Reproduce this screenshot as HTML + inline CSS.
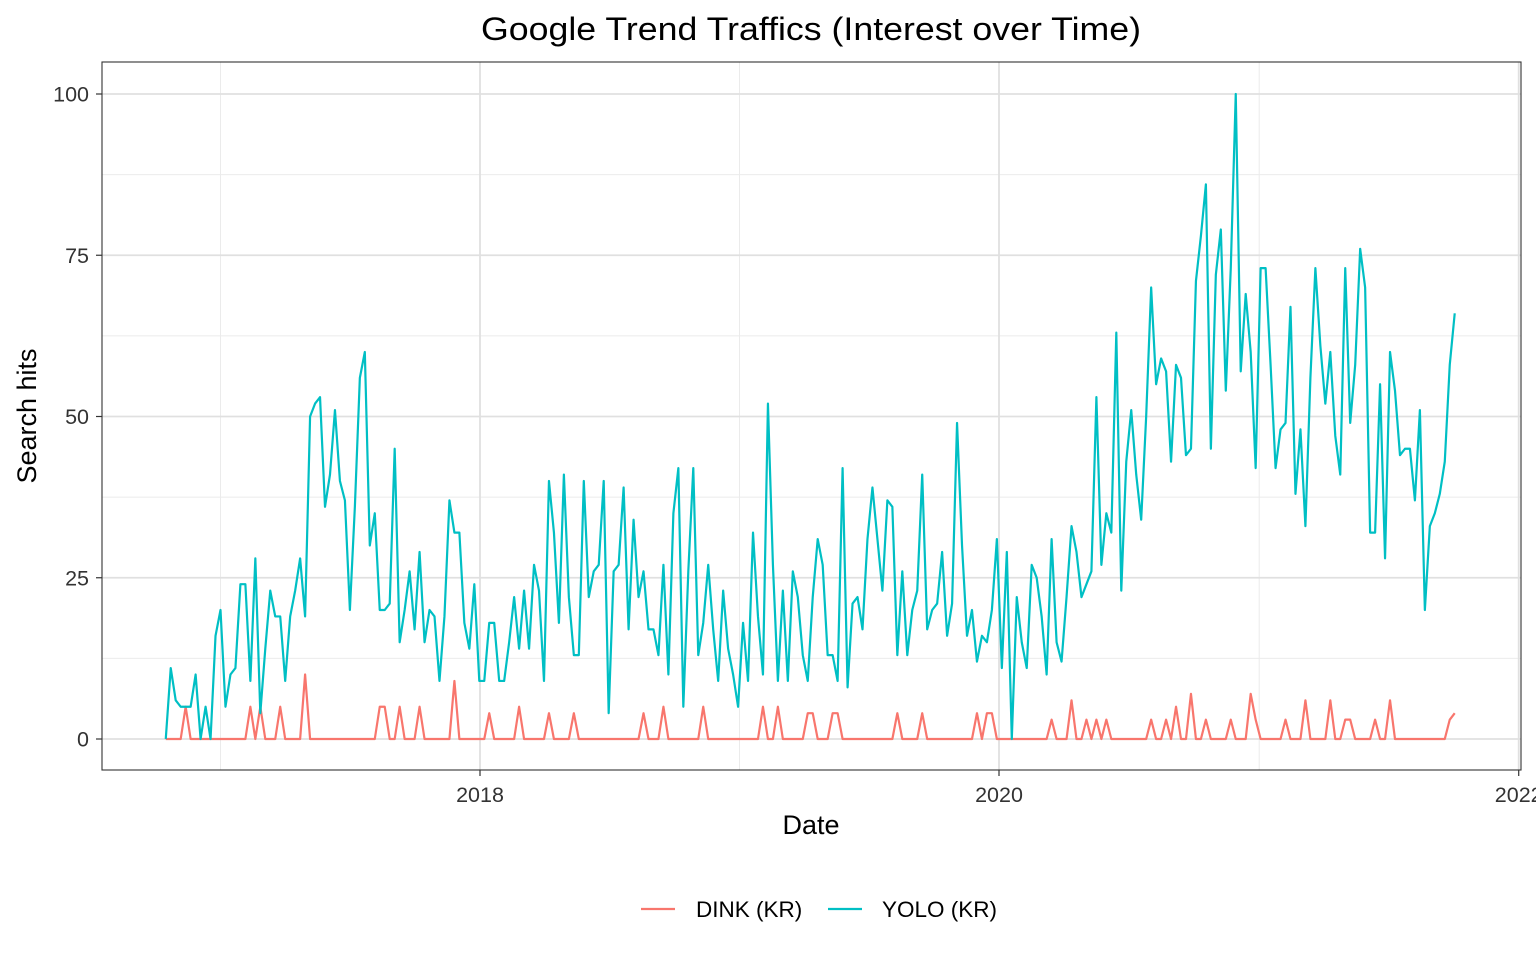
<!DOCTYPE html>
<html><head><meta charset="utf-8"><style>
html,body{margin:0;padding:0;background:#fff;}
svg{display:block;font-family:"Liberation Sans",Arial,sans-serif;}
</style></head><body>
<svg id="chart" width="1536" height="960">
<text x="811" y="40" text-anchor="middle" font-size="32" textLength="660" lengthAdjust="spacingAndGlyphs" fill="#000">Google Trend Traffics (Interest over Time)</text>
<g id="grid"></g>
<g id="series"></g>
<rect x="102" y="62" width="1419" height="708" fill="none" stroke="#333" stroke-width="1.1"/>
<g id="axes"></g>
<text x="811" y="834" text-anchor="middle" font-size="27" fill="#000">Date</text>
<text transform="translate(36,416) rotate(-90)" text-anchor="middle" font-size="27" fill="#000">Search hits</text>
<g>
<g>
<line x1="641" y1="909" x2="675" y2="909" stroke="#F8766D" stroke-width="2.2"/>
<text x="696" y="917" font-size="22.5" fill="#000">DINK (KR)</text>
</g>
<g>
<line x1="828" y1="909" x2="862" y2="909" stroke="#00BFC4" stroke-width="2.2"/>
<text x="882" y="917" font-size="22.5" fill="#000">YOLO (KR)</text>
</g>
</g>
</svg>
<script>
const startDate = "2016-10-16";
const yTicks = [0, 25, 50, 75, 100];
const xTickYears = [2018, 2020, 2022];
const xTickLabels = ["2018", "2020", "2022"];
const dink = [
0,0,0,0,5,0,0,0,0,0,0,0,0,0,0,0,0,5,0,5,
0,0,0,5,0,0,0,0,10,0,0,0,0,0,0,0,0,0,0,0,
0,0,0,5,5,0,0,5,0,0,0,5,0,0,0,0,0,0,9,0,
0,0,0,0,0,4,0,0,0,0,0,5,0,0,0,0,0,4,0,0,
0,0,4,0,0,0,0,0,0,0,0,0,0,0,0,0,4,0,0,0,
5,0,0,0,0,0,0,0,5,0,0,0,0,0,0,0,0,0,0,0,
5,0,0,5,0,0,0,0,0,4,4,0,0,0,4,4,0,0,0,0,
0,0,0,0,0,0,0,4,0,0,0,0,4,0,0,0,0,0,0,0,
0,0,0,4,0,4,4,0,0,0,0,0,0,0,0,0,0,0,3,0,
0,0,6,0,0,3,0,3,0,3,0,0,0,0,0,0,0,0,3,0,
0,3,0,5,0,0,7,0,0,3,0,0,0,0,3,0,0,0,7,3,
0,0,0,0,0,3,0,0,0,6,0,0,0,0,6,0,0,3,3,0,
0,0,0,3,0,0,6,0,0,0,0,0,0,0,0,0,0,0,3,4];
const yolo = [
0,11,6,5,5,5,10,0,5,0,16,20,5,10,11,24,24,9,28,4,
14,23,19,19,9,19,23,28,19,50,52,53,36,41,51,40,37,20,36,56,
60,30,35,20,20,21,45,15,20,26,17,29,15,20,19,9,19,37,32,32,
18,14,24,9,9,18,18,9,9,15,22,14,23,14,27,23,9,40,32,18,
41,22,13,13,40,22,26,27,40,4,26,27,39,17,34,22,26,17,17,13,
27,10,35,42,5,26,42,13,18,27,17,9,23,14,10,5,18,9,32,19,
10,52,27,9,23,9,26,22,13,9,22,31,27,13,13,9,42,8,21,22,
17,31,39,31,23,37,36,13,26,13,20,23,41,17,20,21,29,16,21,49,
30,16,20,12,16,15,20,31,11,29,0,22,15,11,27,25,19,10,31,15,
12,22,33,29,22,24,26,53,27,35,32,63,23,43,51,41,34,50,70,55,
59,57,43,58,56,44,45,71,78,86,45,72,79,54,73,100,57,69,60,42,
73,73,58,42,48,49,67,38,48,33,56,73,61,52,60,47,41,73,49,58,
76,70,32,32,55,28,60,54,44,45,45,37,51,20,33,35,38,43,58,66];

const NS = "http://www.w3.org/2000/svg";
const DAY = 86400000;
const t2018 = Date.UTC(2018,0,1), t2020 = Date.UTC(2020,0,1);
function xScale(t){ return 480 + (t - t2018) / (t2020 - t2018) * 519; }
function yScale(v){ return 739 - v * 6.45; }
const t0 = Date.parse(startDate + "T00:00:00Z");
function dateAt(i){ return t0 + i * 7 * DAY; }
function mk(tag, attrs, parent){ const e = document.createElementNS(NS, tag); for (const k in attrs) e.setAttribute(k, attrs[k]); parent.appendChild(e); return e; }

const grid = document.getElementById("grid");
for (let i = 0; i < yTicks.length - 1; i++) {
  const y = yScale((yTicks[i] + yTicks[i+1]) / 2);
  const l = mk("line", {x1:102, x2:1521, y1:y, y2:y, stroke:"#ebebeb", "stroke-width":1}, grid);
  
  
}
for (let i = 0; i < xTickYears.length; i++) {
  const x = xScale(Date.UTC(xTickYears[i] - 1, 0, 1));
  const l = mk("line", {x1:x, x2:x, y1:62, y2:770, stroke:"#ebebeb", "stroke-width":1}, grid);
  
  
}
const axes = document.getElementById("axes");
for (let i = 0; i < yTicks.length; i++) {
  const y = yScale(yTicks[i]);
  const l = mk("line", {x1:102, x2:1521, y1:y, y2:y, stroke:"#e0e0e0", "stroke-width":1.8}, grid);
  
  
  const tk = mk("line", {x1:96, x2:102, y1:y, y2:y, stroke:"#333", "stroke-width":1.2}, axes);
  
  
  const tx = mk("text", {x:89, y:y+7.5, "text-anchor":"end", "font-size":21.5, fill:"#333"}, axes);
  tx.textContent = String(yTicks[i]);
  
  
}
for (let i = 0; i < xTickYears.length; i++) {
  const x = xScale(Date.UTC(xTickYears[i], 0, 1));
  const l = mk("line", {x1:x, x2:x, y1:62, y2:770, stroke:"#e0e0e0", "stroke-width":1.8}, grid);
  
  
  const tk = mk("line", {x1:x, x2:x, y1:770, y2:776, stroke:"#333", "stroke-width":1.2}, axes);
  
  
  const tx = mk("text", {x:x, y:802, "text-anchor":"middle", "font-size":21.5, fill:"#333"}, axes);
  tx.textContent = xTickLabels[i];
  
  
}
const series = document.getElementById("series");
function drawLine(vals, color, name){
  const pts = vals.map((v, i) => xScale(dateAt(i)).toFixed(2) + "," + yScale(v).toFixed(2)).join(" ");
  const p = mk("polyline", {points:pts, fill:"none", stroke:color, "stroke-width":2.2, "stroke-linejoin":"round"}, series);
  
  
}
drawLine(dink, "#F8766D", "dink-line");
drawLine(yolo, "#00BFC4", "yolo-line");
</script>
</body></html>
